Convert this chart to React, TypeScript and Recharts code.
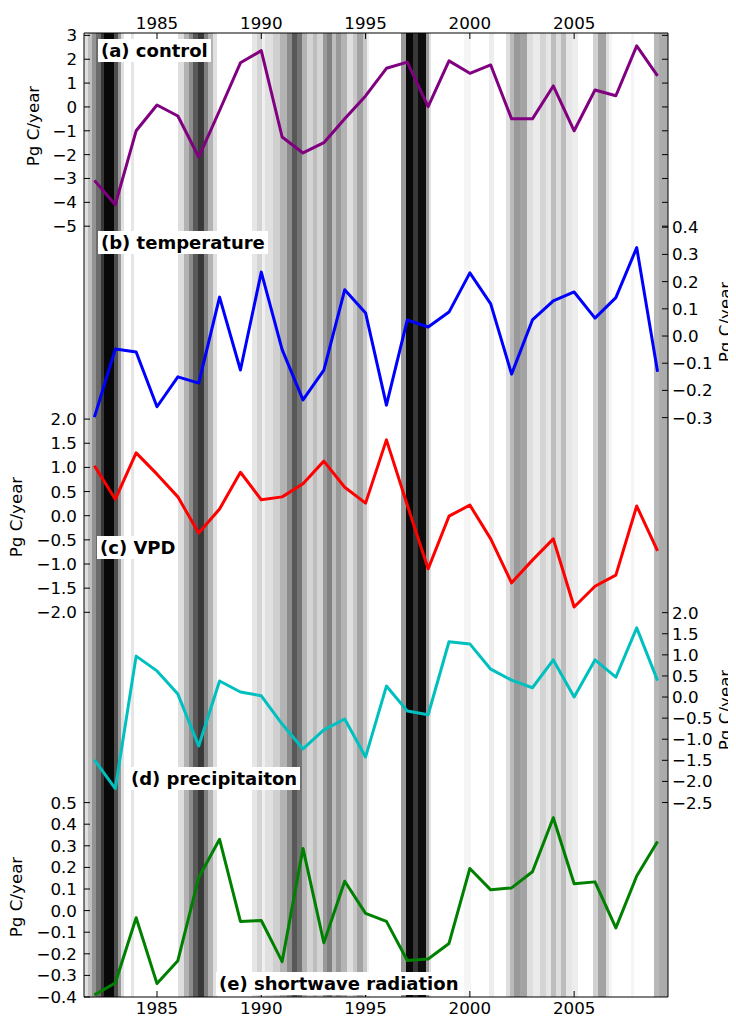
import React from 'react';
import { LineChart, Line, XAxis, YAxis, ReferenceArea } from 'recharts';

const years = [1982, 1983, 1984, 1985, 1986, 1987, 1988, 1989, 1990, 1991, 1992, 1993, 1994, 1995, 1996, 1997, 1998, 1999, 2000, 2001, 2002, 2003, 2004, 2005, 2006, 2007, 2008, 2009];

const control = [-3.08, -4.1, -1.0, 0.08, -0.38, -2.1, -0.15, 1.85, 2.36, -1.26, -1.93, -1.5, -0.5, 0.46, 1.62, 1.88, 0.01, 1.93, 1.41, 1.76, -0.5, -0.5, 0.88, -1.0, 0.71, 0.47, 2.56, 1.3];
const temperature = [-0.298, -0.048, -0.059, -0.26, -0.15, -0.173, 0.143, -0.125, 0.235, -0.05, -0.235, -0.125, 0.17, 0.085, -0.254, 0.059, 0.033, 0.088, 0.232, 0.118, -0.14, 0.059, 0.129, 0.162, 0.066, 0.141, 0.325, -0.131];
const vpd = [1.035, 0.34, 1.3, 0.86, 0.39, -0.36, 0.14, 0.9, 0.33, 0.39, 0.66, 1.13, 0.59, 0.26, 1.57, 0.22, -1.1, -0.01, 0.22, -0.48, -1.39, -0.92, -0.48, -1.89, -1.46, -1.23, 0.2, -0.73];
const precipitation = [-1.49, -2.17, 0.97, 0.62, 0.07, -1.16, 0.38, 0.12, 0.03, -0.64, -1.23, -0.78, -0.52, -1.42, 0.26, -0.33, -0.42, 1.31, 1.26, 0.66, 0.4, 0.22, 0.88, 0.0, 0.88, 0.47, 1.64, 0.39];
const shortwave = [-0.39, -0.335, -0.033, -0.338, -0.232, 0.153, 0.33, -0.05, -0.046, -0.236, 0.288, -0.149, 0.136, -0.013, -0.05, -0.231, -0.224, -0.152, 0.195, 0.096, 0.105, 0.18, 0.43, 0.124, 0.133, -0.08, 0.16, 0.32];

const xTicks = [1985, 1990, 1995, 2000, 2005];
const ticksA = [3, 2, 1, 0, -1, -2, -3, -4, -5];
const ticksB = [0.4, 0.3, 0.2, 0.1, 0.0, -0.1, -0.2, -0.3];
const ticksC = [2.0, 1.5, 1.0, 0.5, 0.0, -0.5, -1.0, -1.5, -2.0];
const ticksD = [2.0, 1.5, 1.0, 0.5, 0.0, -0.5, -1.0, -1.5, -2.0, -2.5];
const ticksE = [0.5, 0.4, 0.3, 0.2, 0.1, 0.0, -0.1, -0.2, -0.3, -0.4];

// background shading bands: [start year, end year, darkness 0..1]
const bands: [number, number, number][] = [
  [1981.5, 1981.692, 0.12], [1981.692, 1981.884, 0.25], [1981.884, 1982.075, 0.42], [1982.075, 1982.315, 0.58],
  [1982.315, 1982.459, 0.78], [1982.459, 1982.938, 0.97], [1982.938, 1983.13, 0.7], [1983.13, 1983.274, 0.4],
  [1983.274, 1983.418, 0.12], [1983.753, 1983.897, 0.1],
  [1986.007, 1986.295, 0.13], [1986.295, 1986.534, 0.3], [1986.534, 1986.726, 0.45], [1986.726, 1986.966, 0.65],
  [1986.966, 1987.253, 0.78], [1987.253, 1987.445, 0.5], [1987.445, 1987.685, 0.3], [1987.685, 1987.877, 0.12],
  [1989.555, 1989.795, 0.1], [1989.795, 1990.034, 0.17], [1990.034, 1990.178, 0.06], [1990.178, 1990.562, 0.12],
  [1990.562, 1990.897, 0.19], [1990.897, 1991.233, 0.3], [1991.233, 1991.473, 0.45], [1991.473, 1991.713, 0.66],
  [1991.713, 1991.952, 0.55], [1991.952, 1992.192, 0.3], [1992.192, 1992.48, 0.17], [1992.48, 1992.671, 0.26],
  [1992.671, 1992.959, 0.17], [1992.959, 1993.151, 0.4], [1993.151, 1993.391, 0.5], [1993.391, 1993.582, 0.26],
  [1993.582, 1993.822, 0.4], [1993.822, 1994.11, 0.3], [1994.11, 1994.397, 0.12], [1994.397, 1994.589, 0.22],
  [1994.589, 1994.877, 0.36], [1994.877, 1995.069, 0.22], [1995.069, 1995.165, 0.06],
  [1996.699, 1996.939, 0.4], [1996.939, 1997.274, 0.97], [1997.274, 1997.514, 0.78], [1997.514, 1997.898, 0.95],
  [1997.898, 1998.041, 0.4], [1998.041, 1998.137, 0.12],
  [1999.719, 2000.055, 0.04], [2000.918, 2001.158, 0.07],
  [2001.733, 2001.925, 0.13], [2001.925, 2002.117, 0.27], [2002.117, 2002.405, 0.4], [2002.405, 2002.74, 0.36],
  [2002.74, 2003.028, 0.13], [2003.028, 2003.364, 0.08], [2003.364, 2003.651, 0.17], [2003.651, 2003.891, 0.1],
  [2003.891, 2004.131, 0.26], [2004.131, 2004.37, 0.13], [2004.37, 2004.61, 0.26], [2004.61, 2004.898, 0.1],
  [2004.898, 2005.185, 0.07],
  [2005.904, 2006.144, 0.18], [2006.144, 2006.528, 0.36], [2006.528, 2006.671, 0.13], [2006.671, 2006.815, 0.04],
  [2007.726, 2007.87, 0.04],
  [2008.829, 2009.069, 0.28], [2009.069, 2009.5, 0.33],
];

const W = 736;
const H = 1016;
const PL = 84;
const PR = 668;
const PT = 33;
const PB = 997;
const X0 = 1981.5;
const X1 = 2009.5;
const FONT = '"DejaVu Sans", "Bitstream Vera Sans", sans-serif';
const TFS = 16.7;

const domA: [number, number] = [-37.32, 3.1];

const fmt = (v: number, d: number) => (v < 0 ? '\u2212' : '') + Math.abs(v).toFixed(d);
const gray = (s: number) => {
  const v = Math.round(255 * (1 - s));
  return `rgb(${v},${v},${v})`;
};

const makeTick = (side: 'left' | 'right', digits: number, both: boolean) => (props: any) => {
  const { y, payload } = props;
  const isLeft = side === 'left';
  return (
    <g>
      {(isLeft || both) && <line x1={PL} x2={PL + 6} y1={y} y2={y} stroke="#000" strokeWidth={1} />}
      {(!isLeft || both) && <line x1={PR - 6} x2={PR} y1={y} y2={y} stroke="#000" strokeWidth={1} />}
      <text
        x={isLeft ? PL - 7 : PR + 4}
        y={y}
        textAnchor={isLeft ? 'end' : 'start'}
        dominantBaseline="central"
        fontSize={TFS}
        fontFamily={FONT}
        fill="#000"
      >
        {fmt(payload.value, digits)}
      </text>
    </g>
  );
};

const topTick = (props: any) => (
  <g>
    <line x1={props.x} x2={props.x} y1={PT} y2={PT + 6} stroke="#000" strokeWidth={1} />
    <text x={props.x} y={22.5} textAnchor="middle" dominantBaseline="central" fontSize={TFS} fontFamily={FONT} fill="#000">
      {props.payload.value}
    </text>
  </g>
);

const bottomTick = (props: any) => (
  <g>
    <line x1={props.x} x2={props.x} y1={PB - 6} y2={PB} stroke="#000" strokeWidth={1} />
    <text x={props.x} y={1007.5} textAnchor="middle" dominantBaseline="central" fontSize={TFS} fontFamily={FONT} fill="#000">
      {props.payload.value}
    </text>
  </g>
);

function Background() {
  const data = years.map((y, i) => ({ year: y, v: control[i] }));
  return (
    <div style={{ position: 'absolute', left: 0, top: 0 }}>
      <LineChart width={W} height={H} data={data} margin={{ top: 0, bottom: 0, left: PL, right: W - PR }}>
        <XAxis xAxisId="top" orientation="top" dataKey="year" type="number" domain={[X0, X1]} allowDataOverflow ticks={xTicks} interval={0} height={PT} axisLine={false} tickLine={false} tick={topTick} />
        <XAxis xAxisId="bottom" orientation="bottom" dataKey="year" type="number" domain={[X0, X1]} allowDataOverflow ticks={xTicks} interval={0} height={H - PB} axisLine={false} tickLine={false} tick={bottomTick} />
        <YAxis yAxisId="bg" hide type="number" domain={domA} allowDataOverflow />
        {bands.map(([a, b, s], i) => (
          <ReferenceArea key={i} xAxisId="bottom" yAxisId="bg" x1={a} x2={b} y1={domA[0]} y2={domA[1]} fill={gray(s)} fillOpacity={1} stroke="none" ifOverflow="visible" />
        ))}
        <ReferenceArea xAxisId="bottom" yAxisId="bg" x1={X0} x2={X1} y1={domA[0]} y2={domA[1]} fill="none" fillOpacity={0} stroke="#000" strokeWidth={1} ifOverflow="visible" />
        <Line xAxisId="bottom" yAxisId="bg" dataKey="v" stroke="none" dot={false} isAnimationActive={false} />
      </LineChart>
    </div>
  );
}

type LayerProps = {
  values: number[];
  color: string;
  domain: [number, number];
  ticks: number[];
  side: 'left' | 'right';
  digits: number;
  both?: boolean;
};

function Layer({ values, color, domain, ticks, side, digits, both = false }: LayerProps) {
  const data = years.map((y, i) => ({ year: y, v: values[i] }));
  const AW = 60;
  const margin = {
    top: PT,
    bottom: H - PB,
    left: side === 'left' ? PL - AW : PL,
    right: side === 'right' ? W - PR - AW : W - PR,
  };
  return (
    <div style={{ position: 'absolute', left: 0, top: 0 }}>
      <LineChart width={W} height={H} data={data} margin={margin}>
        <XAxis dataKey="year" type="number" domain={[X0, X1]} allowDataOverflow hide />
        <YAxis
          type="number"
          orientation={side}
          domain={domain}
          allowDataOverflow
          ticks={ticks}
          interval={0}
          width={AW}
          axisLine={false}
          tickLine={false}
          tick={makeTick(side, digits, both)}
        />
        <Line type="linear" dataKey="v" stroke={color} strokeWidth={3} dot={false} isAnimationActive={false} strokeLinejoin="round" />
      </LineChart>
    </div>
  );
}

const panelLabels = [
  { text: '(a) control', left: 98, top: 38.5 },
  { text: '(b) temperature', left: 98, top: 230.5 },
  { text: '(c) VPD', left: 97, top: 535.5 },
  { text: '(d) precipitaiton', left: 128, top: 766.5 },
  { text: '(e) shortwave radiation', left: 216, top: 971.5 },
];

const yLabels = [
  { x: 39, y: 126 },
  { x: 731, y: 322 },
  { x: 22, y: 517 },
  { x: 731, y: 710 },
  { x: 22, y: 897 },
];

export default function App() {
  return (
    <div style={{ position: 'relative', width: W, height: H, marginLeft: -8, marginTop: -8, overflow: 'hidden' }}>
      <Background />
      <Layer values={control} color="#800080" domain={domA} ticks={ticksA} side="left" digits={0} both />
      <Layer values={temperature} color="#0000ff" domain={[-2.43, 1.114]} ticks={ticksB} side="right" digits={1} />
      <Layer values={vpd} color="#ff0000" domain={[-9.965, 9.994]} ticks={ticksC} side="left" digits={1} />
      <Layer values={precipitation} color="#00bfbf" domain={[-7.11, 15.74]} ticks={ticksD} side="right" digits={1} />
      <Layer values={shortwave} color="#008000" domain={[-0.4, 4.063]} ticks={ticksE} side="left" digits={1} />
      <svg width={W} height={H} style={{ position: 'absolute', left: 0, top: 0, pointerEvents: 'none' }}>
        {yLabels.map((l, i) => (
          <text key={i} x={l.x} y={l.y} transform={`rotate(-90 ${l.x} ${l.y})`} textAnchor="middle" fontSize={TFS} fontFamily={FONT} fill="#000">
            Pg C/year
          </text>
        ))}
      </svg>
      {panelLabels.map((p, i) => (
        <div
          key={i}
          style={{
            position: 'absolute',
            left: p.left,
            top: p.top,
            background: '#fff',
            padding: '0 3px',
            height: 23,
            lineHeight: '23px',
            fontFamily: FONT,
            fontWeight: 'bold',
            fontSize: 18,
            color: '#000',
            whiteSpace: 'nowrap',
          }}
        >
          {p.text}
        </div>
      ))}
    </div>
  );
}
